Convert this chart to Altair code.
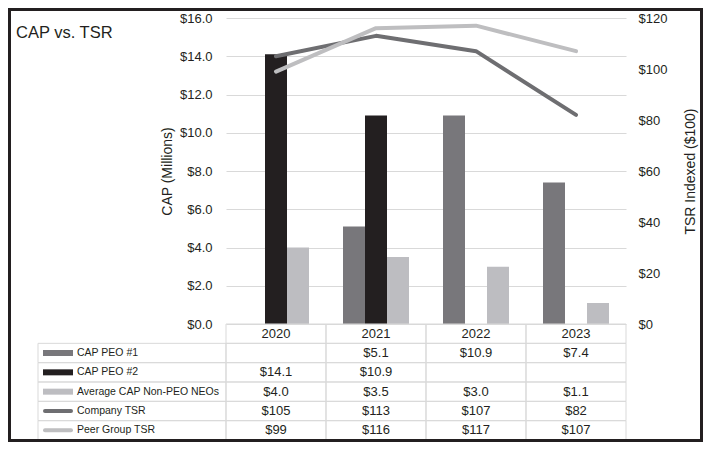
import altair as alt
import pandas as pd

# ---------------- data ----------------
years = ["2020", "2021", "2022", "2023"]
cap_peo1 = [None, 5.1, 10.9, 7.4]
cap_peo2 = [14.1, 10.9, None, None]
cap_neo = [4.0, 3.5, 3.0, 1.1]
company_tsr = [105, 113, 107, 82]
peer_tsr = [99, 116, 117, 107]

bar_series = ["CAP PEO #1", "CAP PEO #2", "Average CAP Non-PEO NEOs"]
line_series = ["Company TSR", "Peer Group TSR"]
all_series = bar_series + line_series
series_colors = ["#78777b", "#231f20", "#bdbdc1", "#6e6e71", "#bebec0"]

title_text = "CAP vs. TSR"
left_title = "CAP (Millions)"
right_title = "TSR Indexed ($100)"
cap_ticks = [0, 2, 4, 6, 8, 10, 12, 14, 16]
tsr_ticks = [0, 20, 40, 60, 80, 100, 120]

FONT = "Liberation Sans"
INK = "#231f20"
GRID = "#d9d9d9"

# ---------------- tables ----------------
bar_rows = []
for s, vals in zip(bar_series, [cap_peo1, cap_peo2, cap_neo]):
    for y, v in zip(years, vals):
        if v is not None:
            bar_rows.append({"series": s, "year": y, "value": v, "label": "$%.1f" % v})
bars_df = pd.DataFrame(bar_rows)

line_rows = []
for s, vals in zip(line_series, [company_tsr, peer_tsr]):
    for y, v in zip(years, vals):
        line_rows.append({"series": s, "year": y, "value": v, "label": "$%d" % v})
lines_df = pd.DataFrame(line_rows)

table_rows = ["hdr"] + all_series
values_df = pd.concat([bars_df, lines_df], ignore_index=True).rename(columns={"series": "row"})
cells_df = pd.DataFrame([{"row": r, "year": y} for r in table_rows for y in years])
labels_df = pd.DataFrame({"row": all_series, "series": all_series,
                          "kind": ["bar"] * 3 + ["line"] * 2})
years_df = pd.DataFrame({"year": years, "row": ["hdr"] * len(years)})
one_df = pd.DataFrame({"t": [title_text]})

# ---------------- encodings ----------------
def x_enc():
    return alt.X("year:N", scale=alt.Scale(domain=years, paddingInner=0, paddingOuter=0), axis=None)

def row_enc():
    return alt.Y("row:N", scale=alt.Scale(domain=table_rows, range=[306, 422],
                                          paddingInner=0, paddingOuter=0), axis=None)

color_enc = alt.Color("series:N", scale=alt.Scale(domain=all_series, range=series_colors), legend=None)

bars = alt.Chart(bars_df).mark_bar().encode(
    x=x_enc(),
    xOffset=alt.XOffset("series:N", scale=alt.Scale(domain=bar_series, paddingInner=0, paddingOuter=0.773)),
    y=alt.Y("value:Q", scale=alt.Scale(domain=[0, 16], nice=False),
            axis=alt.Axis(orient="left", values=cap_ticks, format="$.1f", grid=True, gridColor=GRID,
                          domain=False, ticks=False, tickSize=0, labelPadding=14,
                          labelFont=FONT, labelFontSize=13, labelColor=INK,
                          title=left_title, titleFont=FONT, titleFontSize=14, titleFontWeight="normal",
                          titleColor=INK, titleAngle=270, titleX=-59, titleY=153,
                          titleAlign="center", titleBaseline="middle")),
    color=color_enc,
)

lines = alt.Chart(lines_df).mark_line(strokeWidth=4, strokeCap="round", strokeJoin="round").encode(
    x=x_enc(),
    y=alt.Y("value:Q", scale=alt.Scale(domain=[0, 120], nice=False),
            axis=alt.Axis(orient="right", values=tsr_ticks, format="$.0f", grid=False,
                          domain=False, ticks=False, tickSize=0, labelPadding=12,
                          labelFont=FONT, labelFontSize=13, labelColor=INK,
                          title=right_title, titleFont=FONT, titleFontSize=14, titleFontWeight="normal",
                          titleColor=INK, titleAngle=270, titleX=64, titleY=153,
                          titleAlign="center", titleBaseline="middle")),
    color=color_enc,
    detail="series:N",
)

cells = alt.Chart(cells_df).mark_rect(filled=False, stroke=GRID, strokeWidth=1).encode(
    x=x_enc(), y=row_enc())
label_cells = alt.Chart(labels_df).mark_rect(filled=False, stroke=GRID, strokeWidth=1).encode(
    x=alt.value(-188), x2=alt.value(0), y=row_enc())
bar_swatch = alt.Chart(labels_df).transform_filter(alt.datum.kind == "bar").mark_rule(strokeWidth=6).encode(
    x=alt.value(-183), x2=alt.value(-153), y=row_enc(), color=color_enc)
line_swatch = alt.Chart(labels_df).transform_filter(alt.datum.kind == "line").mark_rule(
    strokeWidth=4, strokeCap="round").encode(
    x=alt.value(-181), x2=alt.value(-155), y=row_enc(), color=color_enc)
row_labels = alt.Chart(labels_df).mark_text(align="left", baseline="middle", font=FONT,
                                            fontSize=10.5, color=INK).encode(
    x=alt.value(-149), y=row_enc(), text="row:N")
value_text = alt.Chart(values_df).mark_text(align="center", baseline="middle", font=FONT,
                                            fontSize=13, color=INK).encode(
    x=x_enc(), y=row_enc(), text="label:N")
year_text = alt.Chart(years_df).mark_text(align="center", baseline="middle", font=FONT,
                                          fontSize=13, color=INK).encode(
    x=x_enc(), y=row_enc(), text="year:N")

table = alt.layer(cells, label_cells, bar_swatch, line_swatch, row_labels, value_text, year_text)

title_mark = alt.Chart(one_df).mark_text(align="left", baseline="middle", font=FONT,
                                         fontSize=16.5, color=INK).encode(
    x=alt.value(-210), y=alt.value(14.5), text="t:N")
border = alt.Chart(one_df).mark_rect(filled=False, stroke=INK, strokeWidth=3).encode(
    x=alt.value(-216.5), x2=alt.value(475.5), y=alt.value(-8.5), y2=alt.value(422.5))

chart = alt.layer(bars, lines, table, title_mark, border).resolve_scale(
    y="independent"
).properties(
    width=400, height=306,
    padding={"left": 218, "top": 10, "right": 77, "bottom": 118},
    autosize=alt.AutoSizeParams(type="none"),
    background="white",
).configure_view(strokeWidth=0)

chart.save("out.html", embed_options={"renderer": "svg", "actions": False})
